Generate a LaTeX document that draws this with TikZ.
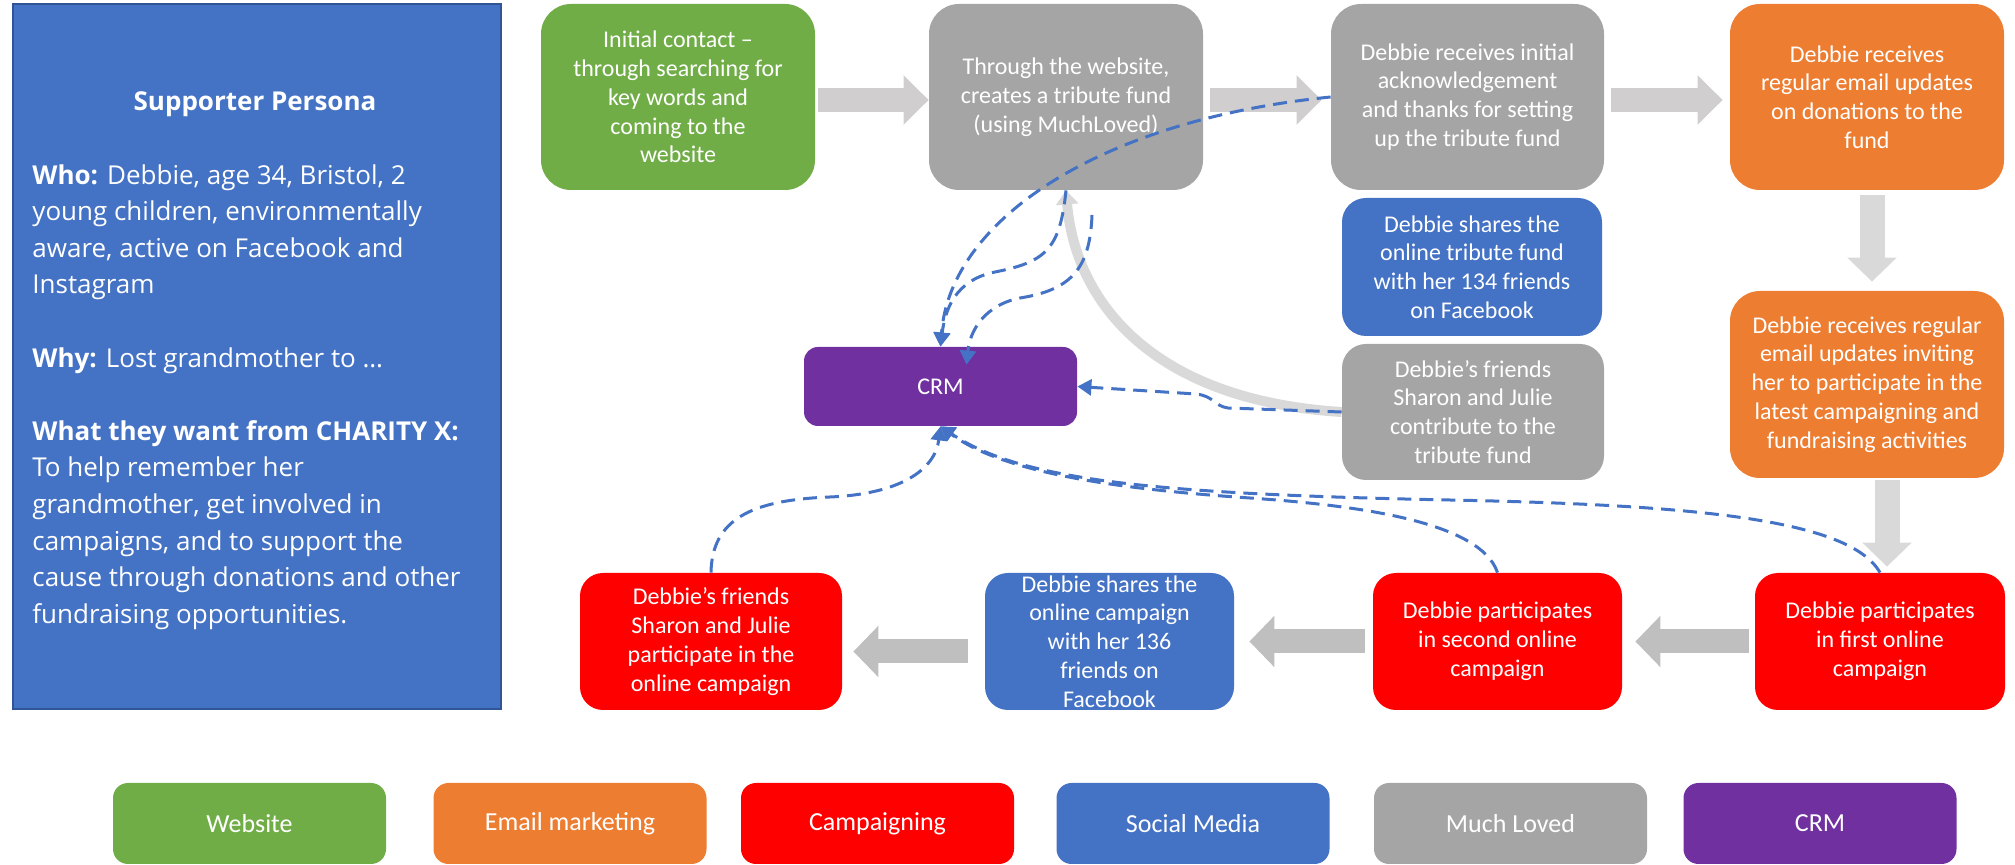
\documentclass[tikz,border=0pt]{standalone}
\usepackage{fontspec}
\setmainfont{Carlito}
\newfontfamily\personafont{Open Sans}
\usetikzlibrary{arrows.meta,calc}
\definecolor{cblue}{HTML}{4472C4}
\definecolor{cgreen}{HTML}{70AD47}
\definecolor{corange}{HTML}{ED7D31}
\definecolor{cred}{HTML}{FF0000}
\definecolor{cgray}{HTML}{A5A5A5}
\definecolor{cpurple}{HTML}{7030A0}
\definecolor{cborder}{HTML}{2F5597}
\definecolor{arrtop}{HTML}{D0CECE}
\definecolor{arrbot}{HTML}{BFBFBF}
\definecolor{arrdown}{HTML}{D9D9D9}
\begin{document}
\begin{tikzpicture}[x=0.5pt,y=-0.5pt,
  box/.style={rounded corners=15pt, text=white, align=center, inner sep=0pt,
    font=\fontsize{12}{14.4}\selectfont},
  topbox/.style={box, minimum width=137pt, minimum height=93pt},
  botbox/.style={box, rounded corners=11.5pt, minimum height=68.5pt},
  legbox/.style={box, rounded corners=7.5pt, minimum width=136.5pt, minimum height=40.5pt,
    font=\fontsize{13}{15.6}\selectfont},
  crmlink/.style={draw=cblue, line width=1.5pt, dash pattern=on 7pt off 4pt,
    -{Triangle[width=8pt,length=7pt]}},
  blockR/.style={draw=arrtop, line width=12pt, -{Triangle[width=24pt,length=12.5pt]}},
  blockD/.style={draw=arrdown, line width=12.5pt, -{Triangle[width=24pt,length=12pt]}},
  blockL/.style={draw=arrbot, line width=12pt, -{Triangle[width=25pt,length=12.5pt]}},
]
\useasboundingbox (0,0) rectangle (2015,865);

% persona
\node[fill=cblue, draw=cborder, line width=1pt, minimum width=244pt, minimum height=352.5pt,
  inner sep=0pt] (persona) at (257,356.5) {};
\node[text=white, inner sep=0pt, font=\personafont\bfseries\fontsize{13}{18.3}\selectfont]
  (ptitle) at (255,104) {Supporter Persona};
\node[text=white, inner sep=0pt, anchor=west, align=left,
  font=\personafont\fontsize{13}{18.3}\selectfont] (pbody) at (32,397)
  {\textbf{Who:} Debbie, age 34, Bristol, 2\\young children, environmentally\\aware, active on Facebook and\\Instagram\\[18.3pt]\textbf{Why:} Lost grandmother to …\\[18.3pt]\textbf{What they want from CHARITY X:}\\To help remember her\\grandmother, get involved in\\campaigns, and to support the\\cause through donations and other\\fundraising opportunities.};

% top row
\node[topbox, fill=cgreen] (web) at (678,97) {Initial contact –\\through searching for\\key words and\\coming to the\\website};
\node[topbox, fill=cgray] (mk) at (1066,97) {Through the website,\\creates a tribute fund\\(using MuchLoved)};
\node[topbox, fill=cgray, minimum width=136.5pt] (ack) at (1467.5,97) {Debbie receives initial\\acknowledgement\\and thanks for setting\\up the tribute fund};
\node[topbox, fill=corange] (em1) at (1867,97) {Debbie receives\\regular email updates\\on donations to the\\fund};

% middle
\node[box, rounded corners=12pt, fill=cblue, minimum width=130pt, minimum height=69pt] (sh1) at (1472,267) {Debbie shares the\\online tribute fund\\with her 134 friends\\on Facebook};
\node[box, rounded corners=12pt, fill=cgray, minimum width=131pt, minimum height=68pt] (fr1) at (1473,412) {Debbie’s friends\\Sharon and Julie\\contribute to the\\tribute fund};
\node[topbox, fill=corange, minimum height=93.5pt] (em2) at (1867,384.5) {Debbie receives regular\\email updates inviting\\her to participate in the\\latest campaigning and\\fundraising activities};
\node[box, rounded corners=7pt, fill=cpurple, minimum width=136.5pt, minimum height=39.5pt] (crm) at (940.5,386.5) {CRM};

% bottom row
\node[botbox, fill=cred, minimum width=131pt] (fr2) at (711,641.5) {Debbie’s friends\\Sharon and Julie\\participate in the\\online campaign};
\node[botbox, fill=cblue, minimum width=124.5pt] (sh2) at (1109.5,641.5) {Debbie shares the\\online campaign\\with her 136\\friends on\\Facebook};
\node[botbox, fill=cred, minimum width=124.5pt] (c2) at (1497.5,641.5) {Debbie participates\\in second online\\campaign};
\node[botbox, fill=cred, minimum width=125pt] (c1) at (1880,641.5) {Debbie participates\\in first online\\campaign};

% legend
\node[legbox, fill=cgreen] (lg1) at (249.5,823.5) {Website};
\node[legbox, fill=corange] (lg2) at (570,823.5) {Email marketing};
\node[legbox, fill=cred] (lg3) at (877.5,823.5) {Campaigning};
\node[legbox, fill=cblue] (lg4) at (1193,823.5) {Social Media};
\node[legbox, fill=cgray] (lg5) at (1510.5,823.5) {Much Loved};
\node[legbox, fill=cpurple] (lg6) at (1820,823.5) {CRM};

% block arrows
\draw[blockR] ($(web.east)+(3,3)$) -- ($(mk.west)+(0,3)$);
\draw[blockR] ($(mk.east)+(7,3)$) -- ($(ack.west)+(-9,3)$);
\draw[blockR] ($(ack.east)+(7,3)$) -- ($(em1.west)+(-7,3)$);
\draw[blockD] ($(em1.south)+(5,5)$) -- ($(em2.north)+(5,-9)$);
\draw[blockD] ($(em2.south)+(20,2)$) -- ($(c1.north)+(7,-6)$);
\draw[blockL] ($(c1.west)+(-6,0)$) -- ($(c2.east)+(13,0)$);
\draw[blockL] ($(c2.west)+(-8,0)$) -- ($(sh2.east)+(15,0)$);
\draw[blockL] ($(sh2.west)+(-17,10)$) -- ($(fr2.east)+(11,10)$);

% gray curved arrow
\draw[arrdown, line width=5pt, -{Triangle[width=11pt,length=7pt]}] (fr1.west) .. controls (1150,400) and (1075,300) .. (mk.south);

% dashed CRM links
\coordinate (l3) at (1092,215);
\draw[crmlink] (ack.west) .. controls (1100,120) and (950,220) .. (crm.north);
\draw[crmlink] (mk.south) .. controls (1060,250) and (1045,262) .. (995,272) .. controls (955,280) and (945,310) .. (crm.north);
\draw[crmlink] (l3) .. controls (1090,270) and (1070,290) .. (1020,298) .. controls (985,305) and (970,330) .. ($(crm.north)+(26,18)$);
\draw[crmlink] (fr1.west) -- (1228,408) .. controls (1214,406) and (1214,396) .. (1196,394) -- (crm.east);
\draw[crmlink] (fr2.north) .. controls (712,520) and (750,500) .. (830,497) .. controls (900,494) and (935,470) .. (crm.south);
\draw[crmlink] (c2.north) .. controls (1480,520) and (1350,505) .. (1250,498) .. controls (1100,488) and (1000,470) .. (crm.south);
\draw[crmlink] (c1.north) .. controls (1850,520) and (1700,505) .. (1450,500) .. controls (1150,494) and (1020,480) .. (crm.south);
\end{tikzpicture}
\end{document}
